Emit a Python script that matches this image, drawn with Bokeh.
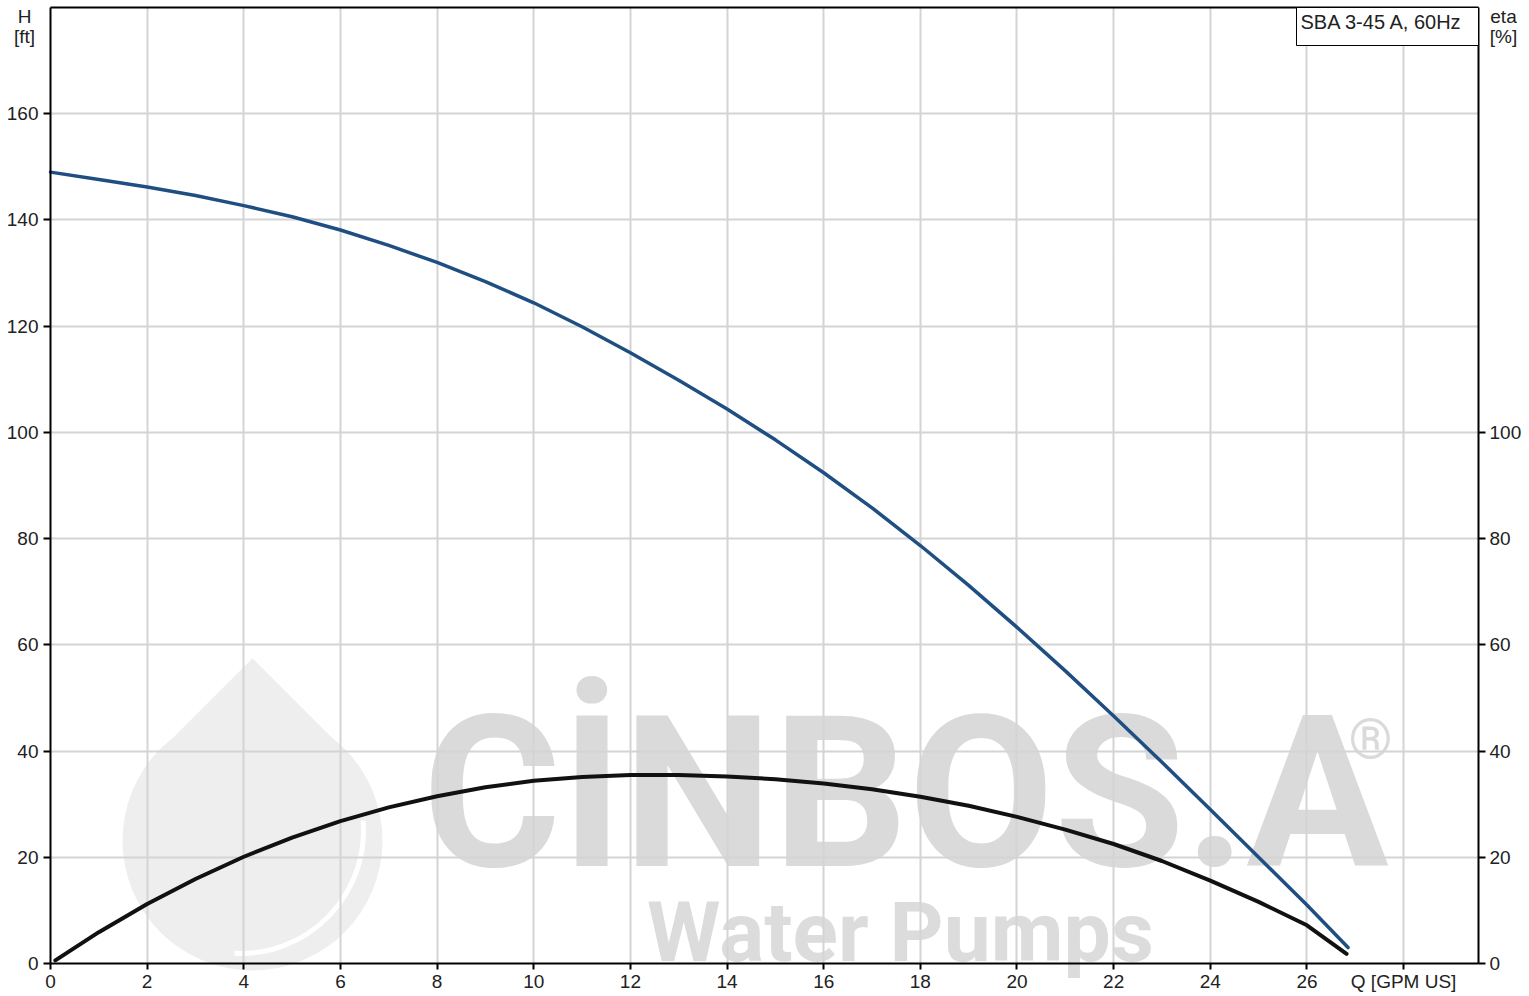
import math
from bokeh.plotting import figure
from bokeh.models import (Range1d, LinearAxis, FixedTicker, Label, BoxAnnotation, Grid)
from bokeh.core.properties import value
from bokeh.embed import file_html
from bokeh.resources import INLINE

# ---- data ----
q_head = [0, 1, 2, 3, 4, 5, 6, 7, 8, 9, 10, 11, 12, 13, 14, 15, 16, 17, 18, 19,
          20, 21, 22, 23, 24, 25, 26, 26.85]
head_ft = [149.0, 147.6, 146.2, 144.6, 142.7, 140.6, 138.1, 135.2, 132.0, 128.4,
           124.4, 119.9, 115.0, 109.8, 104.4, 98.6, 92.4, 85.8, 78.7, 71.2,
           63.3, 55.1, 46.6, 37.9, 29.0, 20.0, 11.0, 3.0]

q_eta = [0.1, 1, 2, 3, 4, 5, 6, 7, 8, 9, 10, 11, 12, 13, 14, 15, 16, 17, 18, 19,
         20, 21, 22, 23, 24, 25, 26, 26.82]
eta_pct = [0.6, 5.9, 11.2, 15.9, 20.1, 23.7, 26.8, 29.4, 31.5, 33.2, 34.4, 35.1,
           35.5, 35.5, 35.2, 34.7, 33.9, 32.8, 31.4, 29.7, 27.6, 25.2, 22.5, 19.3,
           15.6, 11.6, 7.2, 1.8]

x_ticks = [0, 2, 4, 6, 8, 10, 12, 14, 16, 18, 20, 22, 24, 26, 28]
h_ticks = [0, 20, 40, 60, 80, 100, 120, 140, 160]
eta_ticks = [0, 20, 40, 60, 80, 100]
x_unit_label = "Q [GPM US]"
title_text = "SBA 3-45 A, 60Hz"

# ---- layout (pixels) ----
W, H = 1529, 996
FRAME_L, FRAME_R, FRAME_T, FRAME_B = 50, 1478, 7, 963
Q_MAX, Y_MAX = 29.55, 180.0
sx = (FRAME_R - FRAME_L) / Q_MAX
sy = (FRAME_B - FRAME_T) / Y_MAX
x0 = -FRAME_L / sx
x1 = Q_MAX + (W - FRAME_R) / sx
y0 = -(H - FRAME_B) / sy
y1 = Y_MAX + FRAME_T / sy

def qx(px):
    return (px - FRAME_L) / sx

def vy(py):
    return (FRAME_B - py) / sy

FONT = "Liberation Sans"
FS = "19px"
TXT = "#222222"

p = figure(width=W, height=H, output_backend="svg", toolbar_location=None,
           x_range=Range1d(x0, x1), y_range=Range1d(y0, y1),
           x_axis_location=None, y_axis_location=None,
           min_border_left=0, min_border_right=0, min_border_top=0, min_border_bottom=0,
           background_fill_color="white", border_fill_color="white")
p.extra_y_ranges = {"eta": Range1d(y0, y1)}
p.outline_line_color = None
p.xgrid.visible = False
p.ygrid.visible = False

def style_axis(ax):
    ax.axis_line_color = "black"
    ax.axis_line_width = 2
    ax.major_tick_line_color = "black"
    ax.major_tick_line_width = 2
    ax.major_tick_in = 0
    ax.major_tick_out = 7
    ax.minor_tick_line_color = None
    ax.major_label_text_font = FONT
    ax.major_label_text_font_size = FS
    ax.major_label_text_color = TXT
    ax.major_label_standoff = 5

xaxis = LinearAxis(ticker=FixedTicker(ticks=x_ticks), fixed_location=0, bounds=(0, Q_MAX))
style_axis(xaxis)
xaxis.major_tick_out = 6
xaxis.major_label_standoff = 1
xaxis.major_label_overrides = {28: x_unit_label}
p.add_layout(xaxis, "below")

top_axis = LinearAxis(ticker=FixedTicker(ticks=[]), fixed_location=Y_MAX, bounds=(0, Q_MAX))
style_axis(top_axis)
top_axis.major_label_text_font_size = "0px"
p.add_layout(top_axis, "above")

yaxis = LinearAxis(ticker=FixedTicker(ticks=h_ticks), fixed_location=0, bounds=(0, Y_MAX))
style_axis(yaxis)
p.add_layout(yaxis, "left")

raxis = LinearAxis(y_range_name="eta", ticker=FixedTicker(ticks=eta_ticks),
                   fixed_location=Q_MAX, bounds=(0, Y_MAX))
style_axis(raxis)
raxis.major_label_standoff = 4
p.add_layout(raxis, "right")

# grid, limited to the plotting area
GRID = dict(grid_line_color="#d4d4d4", grid_line_width=2)
grid_props = Grid.properties()
if "cross_bounds" in grid_props:
    vgrid = Grid(dimension=0, ticker=FixedTicker(ticks=x_ticks[1:]),
                 bounds=(0, Q_MAX), cross_bounds=(0, Y_MAX), **GRID)
    hgrid = Grid(dimension=1, ticker=FixedTicker(ticks=h_ticks[1:]),
                 bounds=(0, Y_MAX), cross_bounds=(0, Q_MAX), **GRID)
    p.add_layout(vgrid)
    p.add_layout(hgrid)
else:
    gx = x_ticks[1:]
    p.segment(x0=gx, y0=[0] * len(gx), x1=gx, y1=[Y_MAX] * len(gx),
              line_color=GRID["grid_line_color"], line_width=2, level="underlay")
    gy = h_ticks[1:]
    p.segment(x0=[0] * len(gy), y0=gy, x1=[Q_MAX] * len(gy), y1=gy,
              line_color=GRID["grid_line_color"], line_width=2, level="underlay")

# watermark (drawn below grid)
WM = "#eeeeee"
drop_cx, drop_cy = qx(252), vy(840)
p.circle(x=[drop_cx], y=[drop_cy], radius=130, radius_units="screen",
         fill_color=WM, line_color=None, level="image")
p.scatter(x=[drop_cx], y=[vy(749)], marker="square", size=129, angle=math.pi / 4,
          fill_color=WM, line_color=None, level="image")
p.arc(x=[qx(240)], y=[vy(830)], radius=123, radius_units="screen",
      start_angle=-1.62, end_angle=0.08, line_color="white", line_width=5, level="image")
p.text(x=[qx(905)], y=[vy(793)], text=["CİNBOS.A"], text_font=value("Roboto"),
       text_font_style="bold", text_font_size="212px", text_color="#dadada",
       text_align="center", text_baseline="middle", level="image")
p.text(x=[qx(1370)], y=[vy(738)], text=["®"], text_font=value("Roboto"),
       text_font_size="56px", text_color="#dadada",
       text_align="center", text_baseline="middle", level="image")
p.text(x=[qx(900)], y=[vy(932)], text=["Water Pumps"], text_font=value("Roboto"),
       text_font_style="bold", text_font_size="84px", text_color="#dcdcdc",
       text_align="center", text_baseline="middle", level="image")

# curves
p.line(q_head, head_ft, line_color="#1f4f82", line_width=3.5, line_cap="round",
       line_join="round")
p.line(q_eta, eta_pct, line_color="#111111", line_width=4, line_cap="round",
       line_join="round", y_range_name="eta")

# title box
p.add_layout(BoxAnnotation(left=qx(1296), right=Q_MAX, bottom=vy(45), top=Y_MAX,
                           fill_color="white", fill_alpha=1.0,
                           line_color="black", line_width=1, line_alpha=1.0))
p.add_layout(Label(x=qx(1300), y=vy(21), text=title_text, text_font=FONT,
                   text_font_size="20px", text_color=TXT, text_baseline="middle",
                   text_align="left"))

# axis unit labels
for txt, px, py in (("H", 24, 16), ("[ft]", 24, 36), ("eta", 1503, 16), ("[%]", 1503, 36)):
    p.add_layout(Label(x=qx(px), y=vy(py), text=txt, text_font=FONT, text_font_size=FS,
                       text_color=TXT, text_align="center", text_baseline="middle"))

open("out.html", "w").write(file_html(p, INLINE))
